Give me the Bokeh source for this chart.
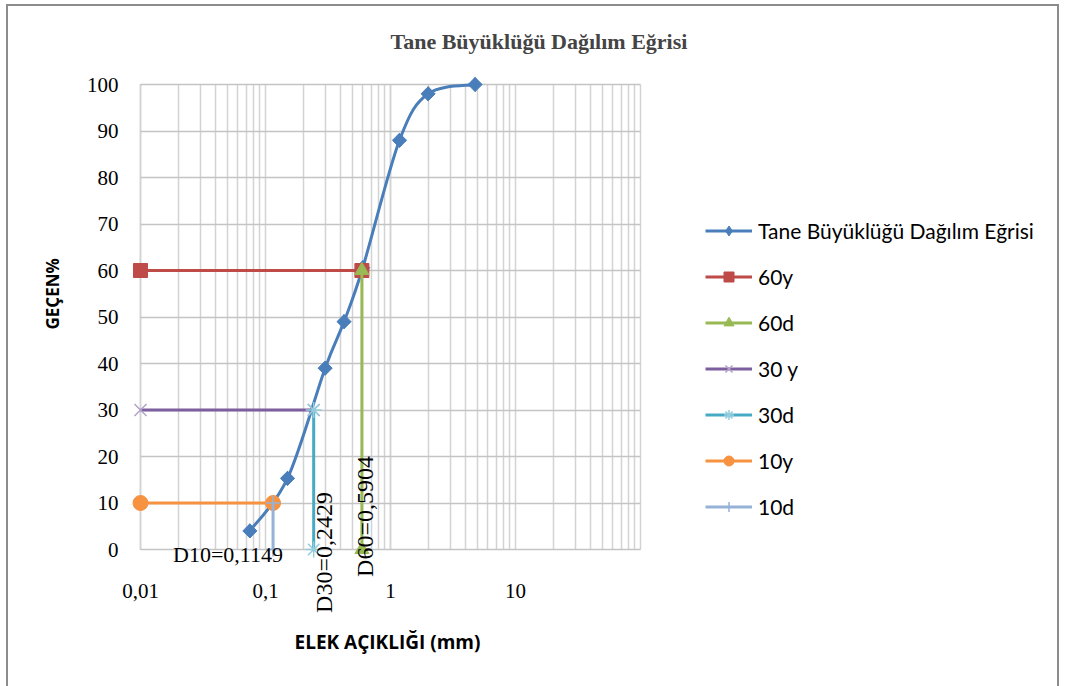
import math
from bokeh.plotting import figure
from bokeh.models import Legend, LegendItem, FixedTicker, Title
from bokeh.core.properties import value
from bokeh.embed import file_html
from bokeh.resources import INLINE

# ---------------- data ----------------
sieve_mm = [0.075, 0.15, 0.3, 0.425, 0.6, 1.18, 2.0, 4.75]
passing = [4.0, 15.3, 39.0, 49.0, 60.6, 88.0, 98.0, 100.0]

D10 = 0.1149
D30 = 0.2429
D60 = 0.5904
x_start = 0.01
x_end = 100
y_bottom = 0
y_top = 100

y60_x = [x_start, D60]
y60_y = [60, 60]
d60_x = [D60, D60]
d60_y = [60, 0]
y30_x = [x_start, D30]
y30_y = [30, 30]
d30_x = [D30, D30]
d30_y = [30, 0]
y10_x = [x_start, D10]
y10_y = [10, 10]
d10_x = [D10, D10]
d10_y = [10, 0]

x_ticks = [0.01, 0.1, 1, 10, 100]
x_tick_labels = ["0,01", "0,1", "1", "10", ""]
y_ticks = [0, 10, 20, 30, 40, 50, 60, 70, 80, 90, 100]
minor_mult = [2, 3, 4, 5, 6, 7, 8, 9]

title_text = "Tane Büyüklüğü Dağılım Eğrisi"
x_label = "ELEK AÇIKLIĞI (mm)"
y_label = "GEÇEN%"
series_names = ["Tane Büyüklüğü Dağılım Eğrisi", "60y", "60d", "30 y", "30d", "10y", "10d"]
labels = ["D10=0,1149", "D30=0,2429", "D60=0,5904"]

# ---------------- layout (pixels) ----------------
W, H = 1065, 686
px_decade = 125.0
px_unit = 4.65
pad_l, pad_r, pad_t, pad_b = 10, 4, 10, 70
x_range = (10 ** (math.log10(x_start) - pad_l / px_decade),
           10 ** (math.log10(x_end) + pad_r / px_decade))
y_range = (y_bottom - pad_b / px_unit, y_top + pad_t / px_unit)
frame_w = int(round(4 * px_decade)) + pad_l + pad_r
frame_h = int(round(100 * px_unit)) + pad_t + pad_b
left_b, top_b = 130, 74

p = figure(
    x_axis_type="log",
    x_range=x_range,
    y_range=y_range,
    frame_width=frame_w,
    frame_height=frame_h,
    min_border_left=left_b,
    min_border_right=W - left_b - frame_w,
    min_border_top=top_b,
    min_border_bottom=H - top_b - frame_h,
    output_backend="svg",
    toolbar_location=None,
)
# chart-area border (left, top, right) drawn by CSS behind a transparent canvas border
g = "linear-gradient(#8c8c8c,#8c8c8c)"
p.styles = {
    "background": (f"{g} 6px 4px / 2px 100% no-repeat, "
                   f"{g} 6px 4px / 1053px 2px no-repeat, "
                   f"{g} 1057px 4px / 2px 100% no-repeat, white"),
}
p.background_fill_color = "white"
p.border_fill_alpha = 0
p.outline_line_color = None

# title
p.title.text = title_text
p.title.text_font = "Liberation Serif"
p.title.text_font_style = "bold"
p.title.text_font_size = "22px"
p.title.align = "left"
p.title.offset = 260
p.title.standoff = 41

# axes
serif = "Liberation Serif"
p.xaxis.ticker = FixedTicker(
    ticks=x_ticks,
    minor_ticks=[m * t for t in [0.01, 0.1, 1, 10] for m in minor_mult],
)
p.xaxis.major_label_overrides = {t: s for t, s in zip(x_ticks, x_tick_labels)}
p.yaxis.ticker = FixedTicker(ticks=y_ticks)
for ax in (p.xaxis[0], p.yaxis[0]):
    ax.major_tick_out = 0
    ax.major_tick_in = 0
    ax.minor_tick_out = 0
    ax.minor_tick_in = 0
    ax.axis_line_color = None
    ax.major_label_text_font = serif
    ax.major_label_text_font_size = "21px"
    ax.major_label_text_color = "black"
    ax.axis_label_text_font = "Open Sans"
    ax.axis_label_text_font_style = "bold"
    ax.axis_label_text_color = "black"
p.xaxis.axis_label = x_label
p.xaxis.axis_label_text_font_size = "19px"
p.xaxis.major_label_standoff = -36
p.yaxis.major_label_standoff = 12
p.xaxis.axis_label_standoff = 28

# y axis title placed on the left (positioned like the original, above frame centre)
ytitle = Title(text=y_label, align="left", offset=290, standoff=39,
               text_font="Open Sans", text_font_style="bold", text_font_size="17px",
               text_color="black")
p.add_layout(ytitle, "left")

p.xgrid.grid_line_color = "#d3d3d3"
p.xgrid.grid_line_width = 1.5
p.xgrid.minor_grid_line_color = "#d3d3d3"
p.xgrid.minor_grid_line_width = 1.5
p.xgrid.cross_bounds = (y_bottom, y_top)
p.ygrid.grid_line_color = "#c4c4c4"
p.ygrid.grid_line_width = 1.5
p.ygrid.cross_bounds = (x_start, x_end)

# plot-area axis lines (value axis at 0.01, crossing line at 1)
p.segment(x0=[x_start, 1], y0=[y_bottom, y_bottom], x1=[x_start, 1], y1=[y_top, y_top],
          line_color="#8c8c8c", line_width=1.2, level="underlay")

# ---------------- smoothed main curve (Excel-style bezier) ----------------
lx = [math.log10(v) for v in sieve_mm]
n = len(lx)
bx0, by0, bx1, by1, bcx0, bcy0, bcx1, bcy1 = ([] for _ in range(8))
for i in range(n - 1):
    i0 = max(i - 1, 0)
    i3 = min(i + 2, n - 1)
    c1x = lx[i] + (lx[i + 1] - lx[i0]) / 6
    c1y = passing[i] + (passing[i + 1] - passing[i0]) / 6
    c2x = lx[i + 1] - (lx[i3] - lx[i]) / 6
    c2y = passing[i + 1] - (passing[i3] - passing[i]) / 6
    bx0.append(sieve_mm[i]); by0.append(passing[i])
    bx1.append(sieve_mm[i + 1]); by1.append(passing[i + 1])
    bcx0.append(10 ** c1x); bcy0.append(c1y)
    bcx1.append(10 ** c2x); bcy1.append(c2y)

blue = "#4a7ebb"
main_line = p.bezier(x0=bx0, y0=by0, x1=bx1, y1=by1, cx0=bcx0, cy0=bcy0,
                     cx1=bcx1, cy1=bcy1, line_color=blue, line_width=3)
# diamond (used by the legend) sits under the rotated-square markers
main_diamond = p.scatter(sieve_mm, passing, marker="diamond", size=14,
                         fill_color=blue, line_color=blue)
main_pts = p.scatter(sieve_mm, passing, marker="square", angle=math.pi / 4, size=10,
                     fill_color=blue, line_color=blue)

# ---------------- helper lines ----------------
def series(xs, ys, color, marker, mcolor, size, mline=1.0, fill=True):
    ln = p.line(xs, ys, line_color=color, line_width=3)
    sc = p.scatter(xs, ys, marker=marker, size=size,
                   fill_color=mcolor if fill else None,
                   line_color=mcolor, line_width=mline)
    return [ln, sc]

r60y = series(y60_x, y60_y, "#be4b48", "square", "#be4b48", 14)
r60d = series(d60_x, d60_y, "#98b954", "triangle", "#98b954", 14)
r30y = series(y30_x, y30_y, "#7d5fa0", "x", "#b3a2c7", 17, 1.5, False)
r30d = series(d30_x, d30_y, "#46aac5", "asterisk", "#93cddd", 16, 1.5, False)
r10y = series(y10_x, y10_y, "#f69240", "circle", "#f69240", 15)
r10d = series(d10_x, d10_y, "#95b3d7", "cross", "#95b3d7", 14, 1.5, False)

# ---------------- D labels ----------------
p.text(x=[D10], y=[0], text=[labels[0]], text_font=value(serif), text_font_size="22px",
       text_align="right", text_baseline="middle", x_offset=10, y_offset=5, text_color="black")
p.text(x=[D30], y=[0], text=[labels[1]], text_font=value(serif), text_font_size="24px",
       text_align="center", text_baseline="top", angle=math.pi / 2, x_offset=-3, y_offset=3,
       text_color="black")
p.text(x=[D60], y=[0], text=[labels[2]], text_font=value(serif), text_font_size="24px",
       text_align="center", text_baseline="top", angle=math.pi / 2, x_offset=-10, y_offset=-33,
       text_color="black")

# ---------------- legend ----------------
items = [
    LegendItem(label=series_names[0], renderers=[main_line, main_diamond]),
    LegendItem(label=series_names[1], renderers=r60y),
    LegendItem(label=series_names[2], renderers=r60d),
    LegendItem(label=series_names[3], renderers=r30y),
    LegendItem(label=series_names[4], renderers=r30d),
    LegendItem(label=series_names[5], renderers=r10y),
    LegendItem(label=series_names[6], renderers=r10d),
]
legend = Legend(items=items, location=(61, 100))
legend.label_text_font = "Lato"
legend.label_text_font_size = "21px"
legend.label_text_color = "black"
legend.glyph_width = 47
legend.glyph_height = 25
legend.label_height = 25
legend.spacing = 21
legend.label_standoff = 6
legend.padding = 0
legend.margin = 0
legend.border_line_alpha = 0
legend.background_fill_alpha = 0
p.add_layout(legend, "right")

open("out.html", "w").write(file_html(p, INLINE))
